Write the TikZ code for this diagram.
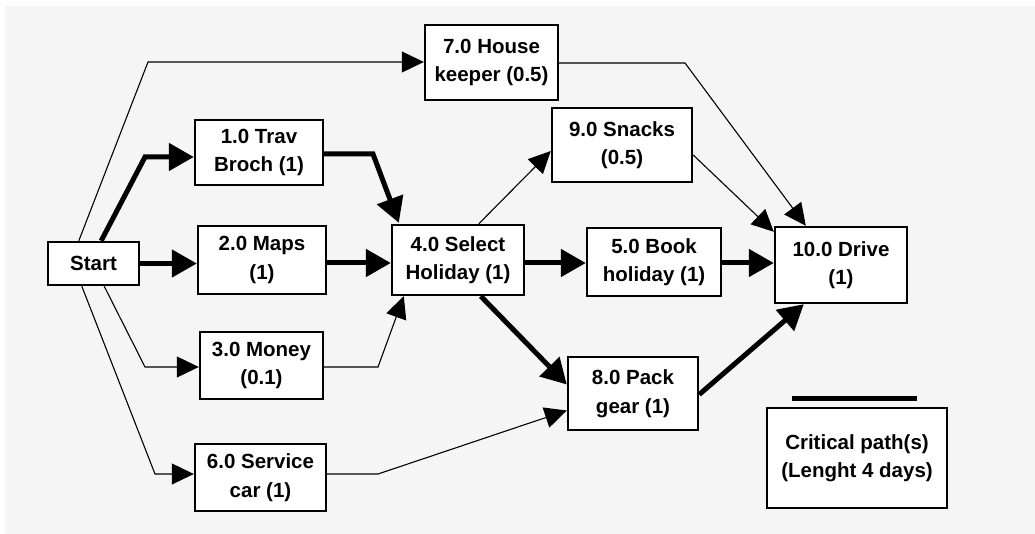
\documentclass[tikz,border=0pt]{standalone}
\usepackage{fontspec}
\setmainfont{Liberation Sans}
\usetikzlibrary{arrows.meta}
\tikzset{
  box/.style={draw=black, line width=2.4pt, fill=white, align=center, inner sep=0pt,
    font=\fontsize{20.5}{28.5}\selectfont\bfseries},
  crit/.style={line width=5pt, -{Triangle[length=25pt,width=27pt]}},
  thin/.style={line width=1.1pt, -{Triangle[length=22pt,width=21pt]}},
}
\begin{document}
\begin{tikzpicture}[x=1pt,y=-1pt]
\useasboundingbox (0,0) rectangle (1035,534);
\fill[white] (0,0) rectangle (1035,534);
\fill[black!4] (5,6) rectangle (1035,534);
% boxes: centres in pixel coords
\node[box, minimum width=91pt, minimum height=43pt] (start) at (93.5,263.5) {Start};
\node[box, minimum width=128pt, minimum height=65pt] (n1) at (259,152.5) {1.0 Trav\\Broch (1)};
\node[box, minimum width=128pt, minimum height=68pt] (n2) at (262,260) {2.0 Maps\\(1)};
\node[box, minimum width=123pt, minimum height=67pt] (n3) at (261.5,365.5) {3.0 Money\\(0.1)};
\node[box, minimum width=131pt, minimum height=67pt] (n6) at (260.5,477.5) {6.0 Service\\car (1)};
\node[box, minimum width=133pt, minimum height=75pt] (n7) at (491.5,62.5) {7.0 House\\keeper (0.5)};
\node[box, minimum width=140pt, minimum height=74pt] (n9) at (622,145) {9.0 Snacks\\(0.5)};
\node[box, minimum width=132pt, minimum height=70pt] (n4) at (458,260) {4.0 Select\\Holiday (1)};
\node[box, minimum width=134pt, minimum height=68pt] (n5) at (654,262) {5.0 Book\\holiday (1)};
\node[box, minimum width=132pt, minimum height=76pt] (n10) at (841,265) {10.0 Drive\\(1)};
\node[box, minimum width=130pt, minimum height=73pt] (n8) at (633,393.5) {8.0 Pack\\gear (1)};
\node[box, minimum width=180pt, minimum height=100pt] (leg) at (857,458) {Critical path(s)\\(Lenght 4 days)};
\coordinate (legA) at (792,398);
\coordinate (legB) at (917,398);
\draw[line width=5pt] (legA) -- (legB);
% connectors
\draw[crit] ([xshift=-39pt]start.north east) -- (145,157) -- (n1.west |- 0,157);
\draw[crit] (start.east) -- (n2.west |- start.east);
\draw[thin] ([xshift=32pt]start.north west) -- (148,62) -- (n7.west |- 0,62);
\draw[thin] ([xshift=-36pt]start.south east) -- (145,367) -- (n3.west |- 0,367);
\draw[thin] ([xshift=35pt]start.south west) -- (155,474) -- (n6.west |- 0,474);
\draw[crit] (n1.east |- 0,154) -- (373,154) -- ([xshift=8pt,yshift=1pt]n4.north west);
\draw[crit] (n2.east |- 0,263) -- (n4.west |- 0,263);
\draw[thin] (n3.east |- 0,367) -- (378,367) -- ([xshift=13pt]n4.south west);
\draw[thin] ([xshift=88pt]n4.north west) -- ([yshift=-6pt]n9.west);
\draw[crit] (n4.east |- 0,263) -- (n5.west |- 0,263);
\draw[crit] ([xshift=90pt]n4.south west) -- ([yshift=9pt]n8.west);
\draw[thin] (n6.east |- 0,474) -- (378,474) -- ([yshift=-17pt]n8.west);
\draw[thin] (n7.east |- 0,63) -- (685,63) -- ([xshift=32pt]n10.north west);
\draw[thin] ([yshift=-10pt]n9.east) -- ([yshift=-6pt]n10.north west);
\draw[crit] (n5.east |- 0,263) -- (n10.west |- 0,263);
\draw[crit] ([yshift=-1pt]n8.east) -- ([xshift=30pt]n10.south west);
\end{tikzpicture}
\end{document}
